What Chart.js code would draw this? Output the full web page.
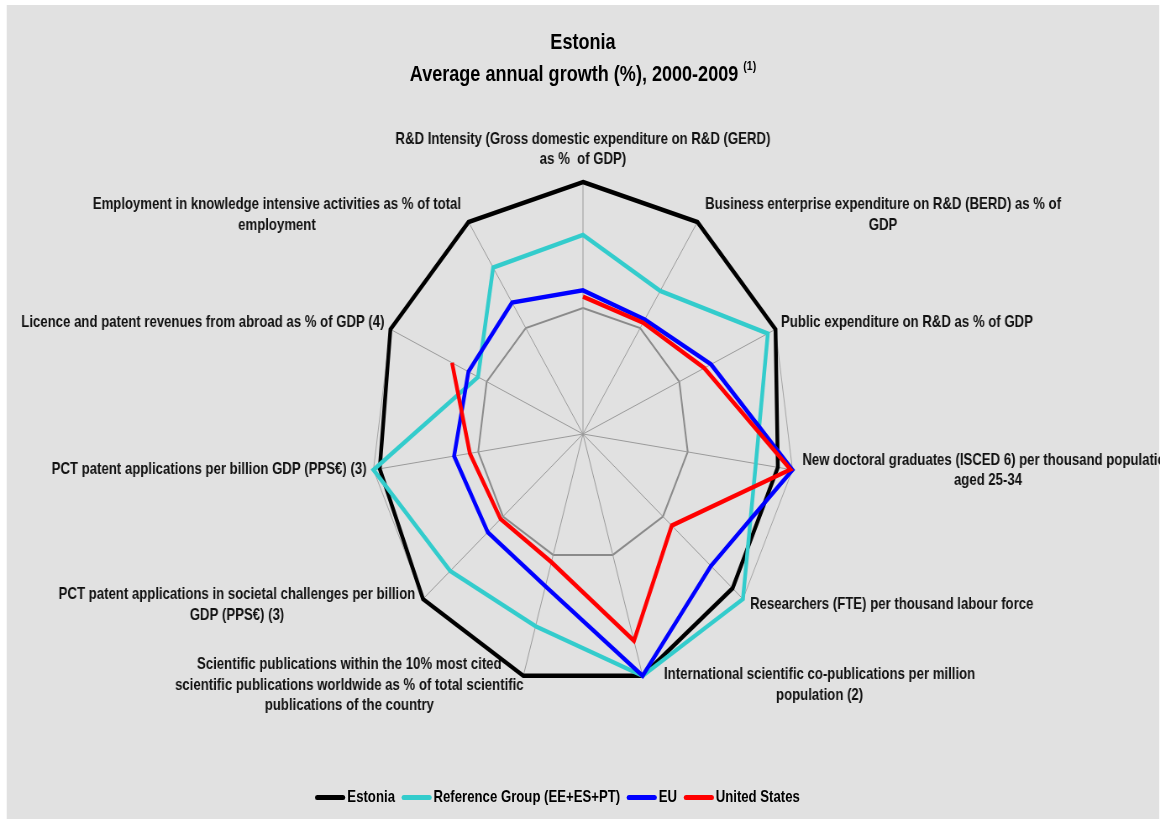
<!DOCTYPE html>
<html>
<head>
<meta charset="utf-8">
<script src="https://cdn.jsdelivr.net/npm/chart.js@4.4.1/dist/chart.umd.min.js"></script>
<style>
  html, body { margin: 0; padding: 0; background: #fff; }
  /* whole picture is squeezed horizontally, like the original export */
  #wrap { position: absolute; left: 0; top: 0; width: 1393px; height: 819px; transform: scaleX(0.84); transform-origin: 0 0; }
  #panel { position: absolute; left: 8.33px; top: 5px; width: 1371.4px; height: 814px; background: #e1e1e1; overflow: hidden;
           font-family: "Liberation Sans", Arial, sans-serif; font-weight: bold; color: #000; }
  #chart { position: absolute; left: -8.33px; top: -5px; }
  .title { position: absolute; left: -8.33px; width: 1388px; text-align: center; font-size: 21.5px; line-height: 32px; }
  .title sup { font-size: 12.5px; vertical-align: 11px; line-height: 0; }
  #legend { position: absolute; left: -8.33px; top: 780px; width: 1327.4px; height: 24px; display: flex; justify-content: center; align-items: center; font-size: 15.7px; }
  .item { display: flex; align-items: center; margin-right: 7.5px; }
  .item:last-child { margin-right: 0; }
  .swatch { width: 36px; height: 5px; border-radius: 3px; margin-right: 2.4px; }
</style>
</head>
<body>
<div id="wrap">
  <div id="panel">
    <canvas id="chart" width="1393" height="819"></canvas>
    <div class="title" style="top:21px">Estonia</div>
    <div class="title" style="top:53px">Average annual growth (%), 2000-2009 <sup>(1)</sup></div>
    <div id="legend"></div>
  </div>
</div>
<script>
const categories = [
  ["R&D Intensity (Gross domestic expenditure on R&D (GERD)", "as %  of GDP)"],
  ["Business enterprise expenditure on R&D (BERD) as % of", "GDP"],
  ["Public expenditure on R&D as % of GDP"],
  ["New doctoral graduates (ISCED 6) per thousand population", "aged 25-34"],
  ["Researchers (FTE) per thousand labour force"],
  ["International scientific co-publications per million", "population (2)"],
  ["Scientific publications within the 10% most cited", "scientific publications worldwide as % of total scientific", "publications of the country"],
  ["PCT patent applications in societal challenges per billion", "GDP (PPS€) (3)"],
  ["PCT patent applications per billion GDP (PPS€) (3)"],
  ["Licence and patent revenues from abroad as % of GDP (4)"],
  ["Employment in knowledge intensive activities as % of total", "employment"]
];

const estonia        = [10, 10, 10, 8.6, 8.7, 10, 10, 10, 9.4, 10, 10];
const referenceGroup = [5.8, 3.5, 9.2, 6.5, 10, 10, 5.9, 6.6, 10, 0.9, 5.7];
const eu             = [1.4, 0.8, 3.3, 10, 6.0, 10, 2.6, 1.9, 2.3, 1.9, 2.4];
const unitedStates   = [0.9, 0.5, 2.6, 9.8, 1.1, 7.1, 0.6, 0.3, 0.8, 3.6, null];

const seriesNames = ["Estonia", "Reference Group (EE+ES+PT)", "EU", "United States"];
const seriesColors = ["#000000", "#33CCCC", "#0000FF", "#FF0000"];

const scaleMin = -10;
const scaleMax = 10;
const scaleStep = 10;

const SX = 0.84; // horizontal squeeze of the wrapper

// label placement relative to the outer vertex of each axis (screen px)
const labelLayout = [
  { dx: 0, dy: -42.5, align: "center" },
  { dx: 185.7, dy: -17, align: "center" },
  { dx: 5.5, dy: -6.3, align: "left" },
  { dx: 195.5, dy: -9.2, align: "center" },
  { dx: 7.1, dy: 6, align: "left" },
  { dx: 177, dy: -0.8, align: "center" },
  { dx: -174, dy: -10.8, align: "center" },
  { dx: -186, dy: -4, align: "center" },
  { dx: -6.9, dy: 0, align: "right" },
  { dx: -5.9, dy: -6.3, align: "right" },
  { dx: -191.6, dy: -17, align: "center" }
];
const LINE_H = 20.5;

const axisLabels = {
  id: "axisLabels",
  beforeDatasetsDraw(chart) {
    const scale = chart.scales.r;
    const ctx = chart.ctx;
    ctx.save();
    ctx.font = 'bold 15.7px "Liberation Sans", Arial, sans-serif';
    ctx.fillStyle = "#111";
    ctx.textBaseline = "middle";
    categories.forEach((lines, i) => {
      const p = scale.getPointPosition(i, scale.drawingArea);
      const l = labelLayout[i];
      ctx.textAlign = l.align;
      lines.forEach((t, k) => ctx.fillText(t, p.x + l.dx / SX, p.y + l.dy + k * LINE_H));
    });
    ctx.restore();
  }
};

const allSeries = [estonia, referenceGroup, eu, unitedStates];

new Chart(document.getElementById("chart"), {
  type: "radar",
  data: {
    labels: categories,
    datasets: allSeries.map((values, i) => ({
      label: seriesNames[i],
      data: values,
      borderColor: seriesColors[i],
      backgroundColor: "transparent",
      borderWidth: 4.5,
      borderJoinStyle: "miter",
      pointRadius: 0,
      fill: false,
      spanGaps: false,
      order: 4 - i
    }))
  },
  options: {
    responsive: false,
    devicePixelRatio: 1,
    animation: false,
    layout: { padding: { top: 182, bottom: 133, left: 0, right: 5 } },
    plugins: { legend: { display: false }, title: { display: false }, tooltip: { enabled: false } },
    scales: {
      r: {
        min: scaleMin,
        max: scaleMax,
        ticks: { display: false, stepSize: scaleStep },
        pointLabels: { display: false },
        angleLines: { color: "#9a9a9a", lineWidth: 1 },
        grid: {
          color: ctx => ctx.tick && ctx.tick.value === 0 ? "#8a8a8a" : "#a3a3a3",
          lineWidth: ctx => ctx.tick && ctx.tick.value === 0 ? 2 : 1
        }
      }
    }
  },
  plugins: [axisLabels]
});

document.getElementById("legend").innerHTML = seriesNames.map((n, i) =>
  `<div class="item"><span class="swatch" style="background:${seriesColors[i]}"></span><span>${n}</span></div>`
).join("");
</script>
</body>
</html>
